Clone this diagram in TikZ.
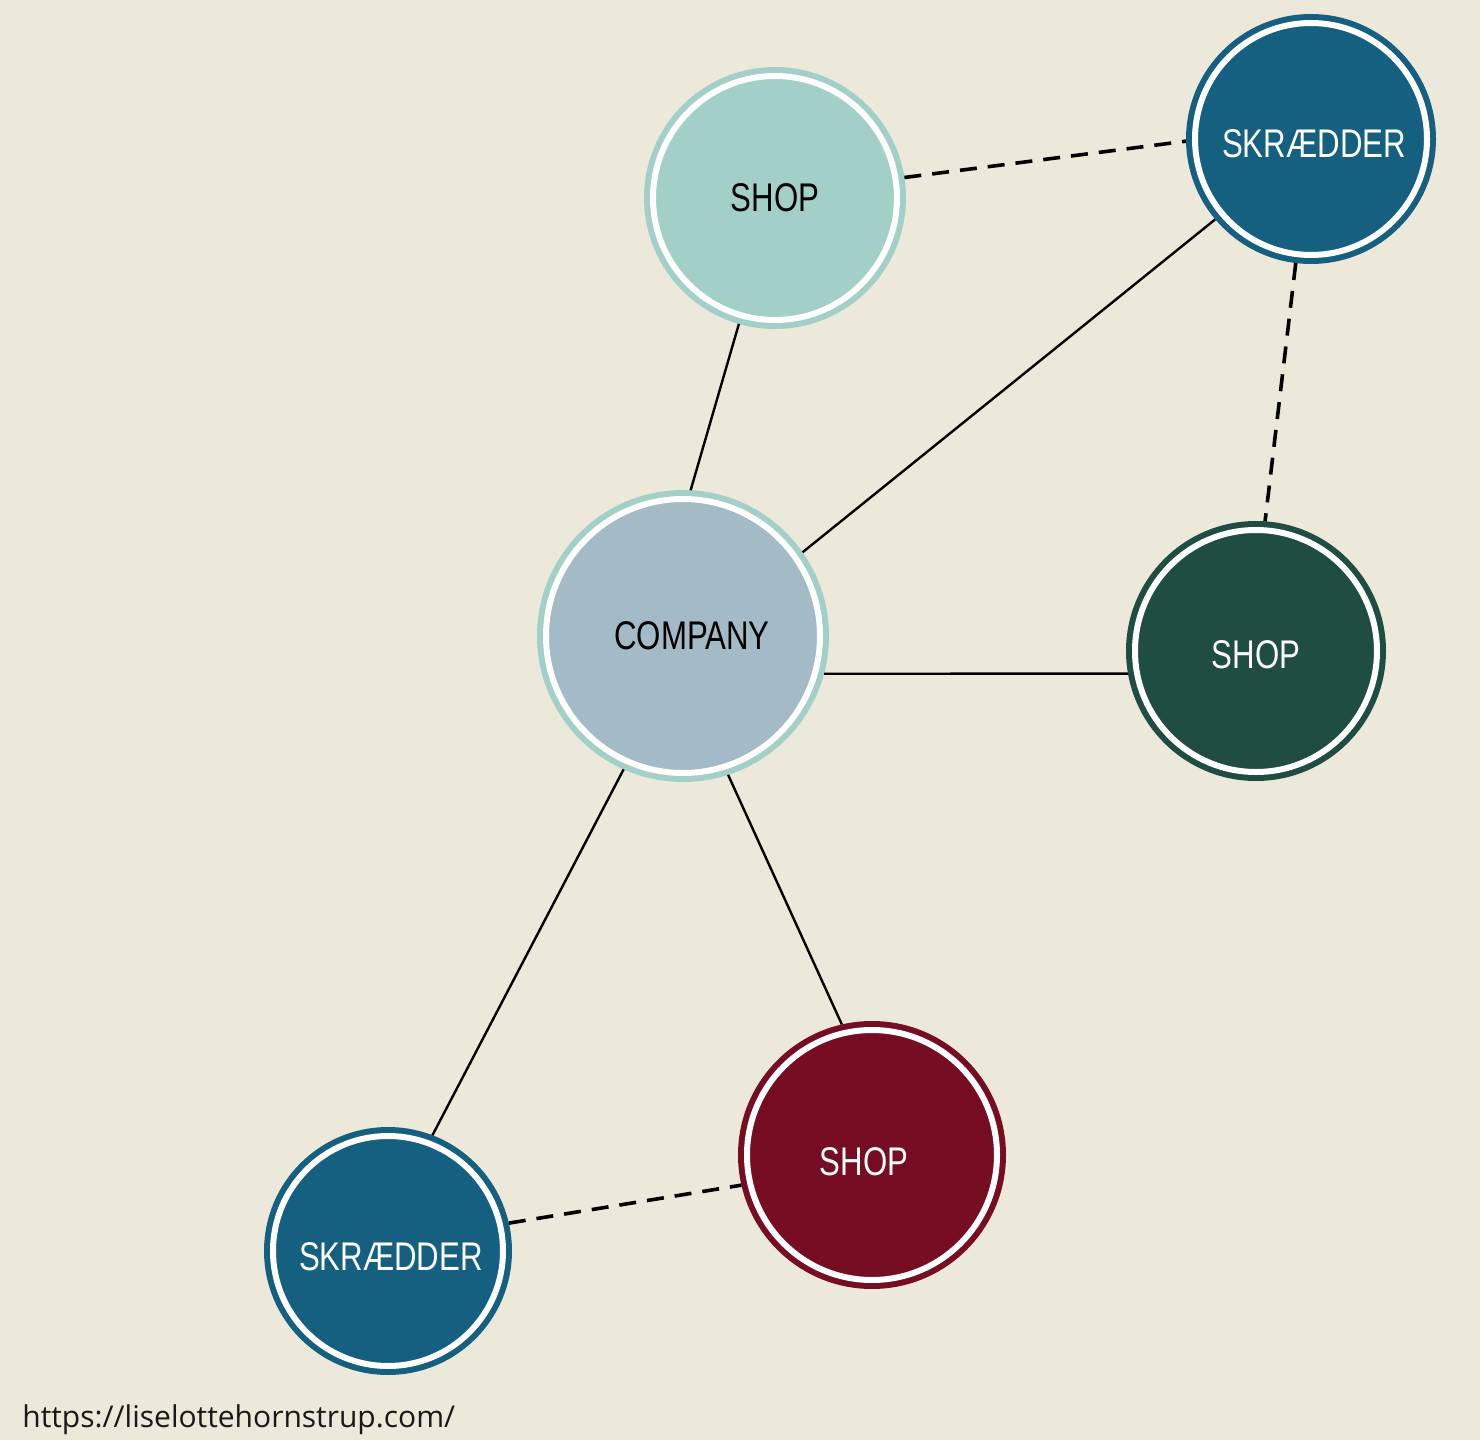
\documentclass[tikz,border=0pt]{standalone}
\usepackage{fontspec}
\newfontfamily\narrowfont[FakeStretch=0.78]{Liberation Sans}
\newfontfamily\urlfont{Open Sans}
\newcommand{\lowerby}[1]{\rule{0pt}{\dimexpr14.3pt+2\dimexpr#1\relax\relax}}
\definecolor{bg}{RGB}{236,233,219}
\definecolor{teal}{RGB}{162,207,200}
\definecolor{greyblue}{RGB}{163,187,199}
\definecolor{darkblue}{RGB}{21,95,128}
\definecolor{darkgreen}{RGB}{31,77,66}
\definecolor{darkred}{RGB}{119,13,34}
\tikzset{
  hub/.style n args={3}{circle, inner sep=0pt, outer sep=4.5pt,
    fill=#1, draw=white, line width=3pt,
    preaction={draw=#2, line width=9pt},
    text=#3, font=\narrowfont\fontsize{20}{23}\selectfont},
  solidlink/.style={draw=black, line width=1.2pt},
  dashlink/.style={draw=black, line width=1.8pt, dash pattern=on 8.5pt off 5.5pt},
}
\begin{document}
\begin{tikzpicture}[x=0.5pt, y=-0.5pt]
\fill[bg] (0,0) rectangle (1480,1440);
\useasboundingbox (0,0) rectangle (1480,1440);

\node[hub={teal}{teal}{black}, minimum size=122pt] (shopA) at (775,198) {SHOP};
\node[hub={darkblue}{darkblue}{white}, minimum size=116pt] (skrA) at (1311,139) {\hspace*{3pt}\lowerby{2pt}SKRÆDDER};
\node[hub={greyblue}{teal}{black}, minimum size=137pt] (comp) at (683,636) {\hspace*{9pt}COMPANY};
\node[hub={darkgreen}{darkgreen}{white}, minimum size=121pt] (shopB) at (1256,651) {\lowerby{1.5pt}SHOP};
\node[hub={darkred}{darkred}{white}, minimum size=125pt] (shopC) at (872,1155) {\lowerby{3pt}SHOP\hspace*{8pt}};
\node[hub={darkblue}{darkblue}{white}, minimum size=115pt] (skrB) at (388,1251) {\hspace*{3pt}\lowerby{2.5pt}SKRÆDDER};

\draw[solidlink] (shopA.254.7) -- (comp.87.2);
\draw[solidlink] (comp.35.2) -- (skrA.220.8);
\draw[solidlink] (comp.-15.7) -- (shopB.190.8);
\draw[solidlink] (comp.246.6) -- (skrB.69.1);
\draw[solidlink] (comp.-72.1) -- (shopC.103.8);

\draw[dashlink] (shopA.9.9) -- (skrA.181.7);
\draw[dashlink] (skrA.263.5) -- (shopB.86.5);
\draw[dashlink] (skrB.13.6) -- (shopC.193.4);

\node[anchor=base west, inner sep=0pt, font=\urlfont\fontsize{15}{17}\selectfont, text=black!90] (url) at (22,1427) {https://liselottehornstrup.com/};
\end{tikzpicture}
\end{document}
